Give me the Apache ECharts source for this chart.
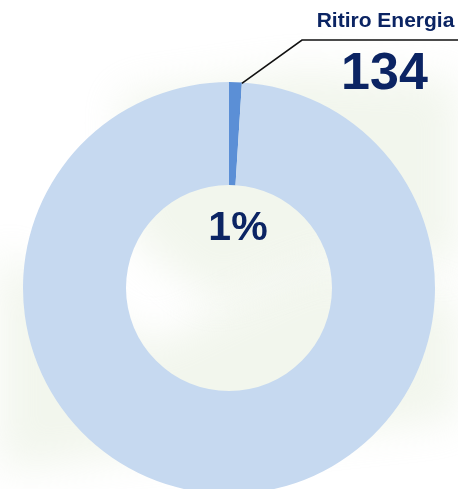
<!DOCTYPE html>
<html>
<head>
<meta charset="utf-8">
<script src="https://cdn.jsdelivr.net/npm/echarts@6/dist/echarts.min.js"></script>
<style>
  html, body { margin: 0; padding: 0; background: #ffffff; }
  #chart { width: 458px; height: 489px; }
</style>
</head>
<body>
<div id="chart"></div>
<script>
// Slices of the ring: the highlighted share and the remainder
const sliceNames = ['Ritiro Energia', 'Altro'];
const sliceValues = [134, 13266];
const sliceColors = ['#5b8fd6', '#c6d9f0'];

const navy = '#0b2463';
const font = '"Liberation Sans", Arial, sans-serif';

// Ring geometry
const CX = 229, CY = 288, R_IN = 103, R_OUT = 206;

const total = sliceValues.reduce((a, b) => a + b, 0);
const sharePct = Math.round(sliceValues[0] / total * 100) + '%';

// Leader line anchor: outer edge near the end of the highlighted slice
const endDeg = 90 - 360 * sliceValues[0] / total;
const anchor = [
  CX + (R_OUT - 1) * Math.cos(endDeg * Math.PI / 180),
  CY - (R_OUT - 1) * Math.sin(endDeg * Math.PI / 180)
];

// Soft background bands, drawn only through their blurred shadow
const OFF = 3000;
function haze(points, color, blur) {
  return {
    type: 'polygon',
    z: -10,
    silent: true,
    shape: { points: points.map(p => [p[0] - OFF, p[1]]) },
    style: {
      fill: '#fff',
      shadowColor: color,
      shadowBlur: blur,
      shadowOffsetX: OFF,
      shadowOffsetY: 0
    }
  };
}

const chart = echarts.init(document.getElementById('chart'), null, { renderer: 'canvas' });

chart.setOption({
  animation: false,
  backgroundColor: '#ffffff',
  graphic: [
    haze([[120, 95], [300, 70], [458, 80], [458, 270], [360, 250], [210, 300], [130, 235]], 'rgba(214,228,200,0.32)', 40),
    haze([[0, 250], [150, 345], [320, 265], [458, 300], [458, 420], [220, 445], [0, 470]], 'rgba(214,228,200,0.32)', 40),
    {
      type: 'text',
      z: 10,
      x: 238,
      y: 229,
      style: {
        text: sharePct,
        font: 'bold 41px ' + font,
        fill: navy,
        align: 'center',
        verticalAlign: 'middle'
      }
    },
    {
      type: 'text',
      z: 10,
      x: 385.5,
      y: 21,
      style: {
        text: sliceNames[0],
        font: 'bold 21px ' + font,
        fill: navy,
        align: 'center',
        verticalAlign: 'middle'
      }
    },
    {
      type: 'text',
      z: 10,
      x: 384.5,
      y: 75,
      style: {
        text: String(sliceValues[0]),
        font: 'bold 52px ' + font,
        fill: navy,
        align: 'center',
        verticalAlign: 'middle'
      }
    },
    {
      type: 'polyline',
      z: 10,
      silent: true,
      shape: { points: [anchor, [302, 40], [458, 40]] },
      style: { stroke: '#111111', lineWidth: 1.6, fill: null }
    }
  ],
  series: [{
    type: 'pie',
    center: [CX, CY],
    radius: [R_IN, R_OUT],
    startAngle: 90,
    clockwise: true,
    silent: true,
    label: { show: false },
    labelLine: { show: false },
    itemStyle: { borderWidth: 0 },
    emphasis: { disabled: true },
    data: sliceNames.map((n, i) => ({
      name: n,
      value: sliceValues[i],
      itemStyle: { color: sliceColors[i] }
    }))
  }]
});
</script>
</body>
</html>
